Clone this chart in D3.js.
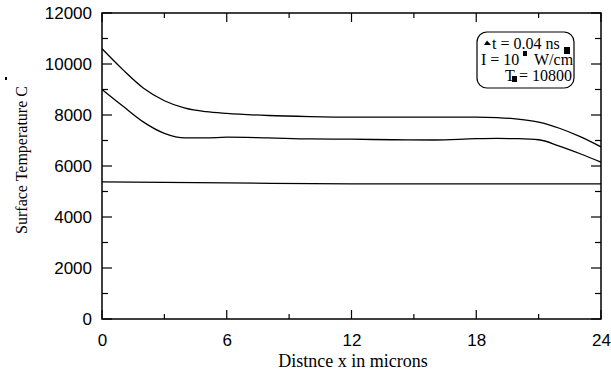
<!DOCTYPE html>
<html>
<head>
<meta charset="utf-8">
<script src="https://cdn.jsdelivr.net/npm/d3@7"></script>
<style>
body { margin: 0; background: #fff; }
svg .tick text { font-family: "Liberation Sans", Arial, Helvetica, sans-serif; font-size: 17px; fill: #000; }
svg text.lbl { font-family: "Liberation Serif", "Times New Roman", Times, serif; font-size: 16px; fill: #000; }
</style>
</head>
<body>
<svg id="chart" width="611" height="372"></svg>
<script>
// distance along surface (microns)
var xs = [0, 1, 2, 3, 4, 5, 6, 8, 10, 12, 14, 16, 18, 19, 20, 21, 22, 23, 24];
// surface temperature curves (C)
var upperT = [10600, 9780, 9050, 8560, 8270, 8130, 8060, 7980, 7940, 7920, 7920, 7920, 7920, 7900, 7840, 7720, 7480, 7150, 6750];
var middleT = [9000, 8350, 7720, 7280, 7100, 7100, 7130, 7100, 7060, 7050, 7030, 7020, 7070, 7080, 7070, 7030, 6780, 6480, 6150];
var lowerX = [0, 6, 12, 18, 24];
var lowerT = [5380, 5340, 5300, 5300, 5300];

var xTicks = [0, 6, 12, 18, 24];
var yTicks = [0, 2000, 4000, 6000, 8000, 10000, 12000];
var legendLines = ["t = 0.04 ns", "I = 10", "W/cm", "T", "= 10800"];

var svg = d3.select("#chart"),
    margin = {top: 13, right: 10, bottom: 53, left: 102},
    width = 611 - margin.left - margin.right,
    height = 372 - margin.top - margin.bottom;

var x = d3.scaleLinear().domain([0, 24]).range([0, width]);
var y = d3.scaleLinear().domain([0, 12000]).range([height, 0]);

var g = svg.append("g")
    .attr("transform", "translate(" + margin.left + "," + margin.top + ")");

// minor ticks, inward, all four sides
var xMinor = d3.range(3, 24, 6);
var yMinor = d3.range(1000, 12000, 2000);

function inTicks(sel, vals, len, side) {
    sel.selectAll(null).data(vals).enter().append("line")
        .attr("stroke", "#000").attr("stroke-width", 1.2)
        .attr("x1", function (d) { return side == "b" || side == "t" ? x(d) : (side == "l" ? 0 : width); })
        .attr("x2", function (d) { return side == "b" || side == "t" ? x(d) : (side == "l" ? len : width - len); })
        .attr("y1", function (d) { return side == "l" || side == "r" ? y(d) : (side == "b" ? height : 0); })
        .attr("y2", function (d) { return side == "l" || side == "r" ? y(d) : (side == "b" ? height - len : len); });
}
inTicks(g, xTicks, 9, "b"); inTicks(g, xTicks, 9, "t");
inTicks(g, xMinor, 5, "b"); inTicks(g, xMinor, 5, "t");
inTicks(g, yTicks, 10, "l"); inTicks(g, yTicks, 10, "r");
inTicks(g, yMinor, 6, "l"); inTicks(g, yMinor, 6, "r");

g.append("g")
    .attr("transform", "translate(0," + height + ")")
    .call(d3.axisBottom(x).tickValues(xTicks).tickSize(0).tickPadding(15).tickFormat(d3.format("d")))
    .call(function (a) { a.select(".domain").remove(); });

g.append("g")
    .call(d3.axisLeft(y).tickValues(yTicks).tickSize(0).tickPadding(10).tickFormat(d3.format("d")))
    .call(function (a) { a.select(".domain").remove(); });

g.append("rect")
    .attr("width", width).attr("height", height)
    .attr("fill", "none").attr("stroke", "#000").attr("stroke-width", 1.5);

var line = d3.line()
    .x(function (d) { return x(d[0]); })
    .y(function (d) { return y(d[1]); })
    .curve(d3.curveMonotoneX);

[[xs, upperT], [xs, middleT], [lowerX, lowerT]].forEach(function (s) {
    g.append("path")
        .datum(s[0].map(function (v, i) { return [v, s[1][i]]; }))
        .attr("fill", "none").attr("stroke", "#000").attr("stroke-width", 1.3)
        .attr("d", line);
});

// axis titles
svg.append("text").attr("class", "lbl")
    .attr("x", 353).attr("y", 367)
    .style("font-size", "18px")
    .attr("text-anchor", "middle").text("Distnce x in microns");
svg.append("text").attr("class", "lbl")
    .attr("transform", "translate(27,160) rotate(-90)")
    .attr("text-anchor", "middle").text("Surface Temperature C");
svg.append("rect").attr("x", 5).attr("y", 77).attr("width", 2).attr("height", 3).attr("fill", "#000");

// legend box
var lg = svg.append("g");
lg.append("rect")
    .attr("x", 477).attr("y", 32).attr("width", 97).attr("height", 56)
    .attr("rx", 10).attr("fill", "#fff").attr("stroke", "#000").attr("stroke-width", 1.2);
lg.append("path").attr("d", "M484,45 L487,40.5 L491,45 Z").attr("fill", "#000");
lg.append("text").attr("class", "lbl").attr("x", 492).attr("y", 49).text(legendLines[0]);
lg.append("rect").attr("x", 564).attr("y", 47).attr("width", 6).attr("height", 7).attr("fill", "#000");
lg.append("text").attr("class", "lbl").attr("x", 481).attr("y", 65).text(legendLines[1]);
lg.append("rect").attr("x", 523).attr("y", 51).attr("width", 4).attr("height", 5).attr("fill", "#000");
lg.append("text").attr("class", "lbl").attr("x", 534).attr("y", 65).text(legendLines[2]);
lg.append("text").attr("class", "lbl").attr("x", 505).attr("y", 81).text(legendLines[3]);
lg.append("rect").attr("x", 512).attr("y", 76).attr("width", 5).attr("height", 6).attr("fill", "#000");
lg.append("text").attr("class", "lbl").attr("x", 519).attr("y", 81).text(legendLines[4]);
</script>
</body>
</html>
